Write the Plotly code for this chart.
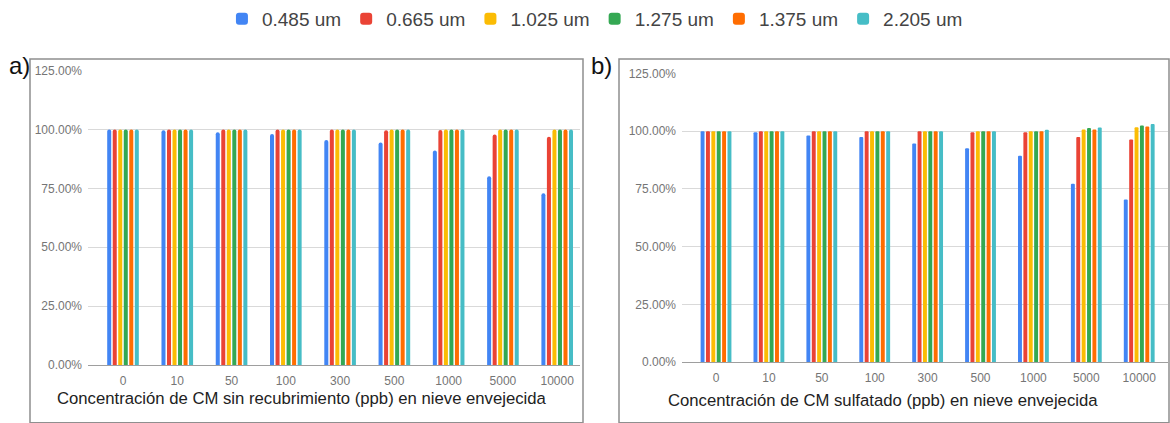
import plotly.graph_objects as go

# Black carbon concentration (ppb) categories
concentrations = ["0", "10", "50", "100", "300", "500", "1000", "5000", "10000"]
wavelengths = ["0.485 um", "0.665 um", "1.025 um", "1.275 um", "1.375 um", "2.205 um"]
colors = ["#4285F4", "#EA4335", "#FBBC04", "#34A853", "#FF6D01", "#46BDC6"]

# a) uncoated black carbon, relative albedo (%)
a_0485 = [100, 99.7, 98.9, 98.1, 95.6, 94.5, 91.1, 80.1, 72.9]
a_0665 = [100, 100, 100, 100, 100, 99.7, 99.8, 97.9, 96.9]
a_1025 = [100, 100, 100, 100, 100, 100, 100, 100, 100]
a_1275 = [100, 100, 100, 100, 100, 100, 100, 100, 100]
a_1375 = [100, 100, 100, 100, 100, 100, 100, 100, 100]
a_2205 = [100, 100, 100, 100, 100, 100, 100, 100, 100]

# b) sulfated black carbon, relative albedo (%)
b_0485 = [100, 99.6, 98.2, 97.5, 94.7, 92.6, 89.4, 77.3, 70.4]
b_0665 = [100, 100, 100, 100, 100, 99.6, 99.6, 97.5, 96.4]
b_1025 = [100, 100, 100, 100, 100, 100, 100, 100.8, 101.7]
b_1275 = [100, 100, 100, 100, 100, 100, 100, 101.4, 102.5]
b_1375 = [100, 100, 100, 100, 100, 100, 100, 100.8, 102.1]
b_2205 = [100, 100, 100, 100, 100, 100, 100.7, 101.6, 103.1]

y_ticks = [0, 25, 50, 75, 100, 125]
y_tick_text = ["0.00%", "25.00%", "50.00%", "75.00%", "100.00%", "125.00%"]

title_a = "Concentración de CM sin recubrimiento (ppb) en nieve envejecida"
title_b = "Concentración de CM sulfatado (ppb) en nieve envejecida"

W, H = 1170, 423


def px(x):
    return x / W


def py(y):
    return 1 - y / H


fig = go.Figure()

series_a = [a_0485, a_0665, a_1025, a_1275, a_1375, a_2205]
series_b = [b_0485, b_0665, b_1025, b_1275, b_1375, b_2205]

for name, color, vals in zip(wavelengths, colors, series_a):
    fig.add_trace(go.Bar(
        x=concentrations, y=vals, name=name, marker_color=color,
        marker_line_width=0, marker_cornerradius=2,
        xaxis="x", yaxis="y", legendgroup=name, showlegend=True,
        hovertemplate="%{x} ppb: %{y:.2f}%<extra>" + name + "</extra>",
    ))

for name, color, vals in zip(wavelengths, colors, series_b):
    fig.add_trace(go.Bar(
        x=concentrations, y=vals, name=name, marker_color=color,
        marker_line_width=0, marker_cornerradius=2,
        xaxis="x2", yaxis="y2", legendgroup=name, showlegend=False,
        hovertemplate="%{x} ppb: %{y:.2f}%<extra>" + name + "</extra>",
    ))

tick_font = dict(size=12, color="#757575")
title_font = dict(size=16.7, color="#222222")

common_x = dict(
    type="category", showgrid=False, showline=True, linecolor="#9e9e9e",
    linewidth=1, ticks="", tickfont=tick_font, fixedrange=True,
    ticklabelstandoff=5,
)
common_y = dict(
    range=[0, 125], tickvals=y_ticks, ticktext=y_tick_text, tickfont=tick_font,
    showgrid=True, gridcolor="#d9d9d9", gridwidth=1, zeroline=False,
    showline=False, ticks="", fixedrange=True, ticklabelstandoff=5,
)

fig.update_layout(
    width=W, height=H,
    margin=dict(l=0, r=0, t=0, b=0),
    paper_bgcolor="white", plot_bgcolor="white",
    font=dict(family="Liberation Sans, Arial, sans-serif", color="#444444"),
    barmode="group", bargap=0.39, bargroupgap=0.27,
    xaxis=dict(common_x, domain=[px(88), px(580)], range=[-0.645, 8.42], anchor="y"),
    yaxis=dict(common_y, domain=[py(370), py(65)], anchor="x"),
    xaxis2=dict(common_x, domain=[px(682), px(1168)], range=[-0.643, 8.544], anchor="y2"),
    yaxis2=dict(common_y, domain=[py(367), py(68)], anchor="x2"),
    legend=dict(
        orientation="h", x=0.5085, xanchor="center", y=py(11), yanchor="middle",
        font=dict(size=19, color="#444444"), itemwidth=30,
        bgcolor="rgba(0,0,0,0)",
    ),
    shapes=[
        dict(type="rect", xref="paper", yref="paper",
             x0=px(30), x1=px(583), y0=py(430), y1=py(53),
             line=dict(color="#8f8f8f", width=1.5), layer="below"),
        dict(type="rect", xref="paper", yref="paper",
             x0=px(619), x1=px(1169), y0=py(430), y1=py(53),
             line=dict(color="#8f8f8f", width=1.5), layer="below"),
    ],
    annotations=[
        dict(text="a)", xref="paper", yref="paper", x=px(7), y=py(60),
             xanchor="left", yanchor="middle", showarrow=False,
             font=dict(size=24, color="#111111")),
        dict(text="b)", xref="paper", yref="paper", x=px(589), y=py(60),
             xanchor="left", yanchor="middle", showarrow=False,
             font=dict(size=24, color="#111111")),
        dict(text=title_a, xref="paper", yref="paper", x=px(302), y=py(405),
             xanchor="center", yanchor="middle", showarrow=False, font=title_font),
        dict(text=title_b, xref="paper", yref="paper", x=px(883), y=py(407),
             xanchor="center", yanchor="middle", showarrow=False, font=title_font),
    ],
)

fig.write_html("out.html")
